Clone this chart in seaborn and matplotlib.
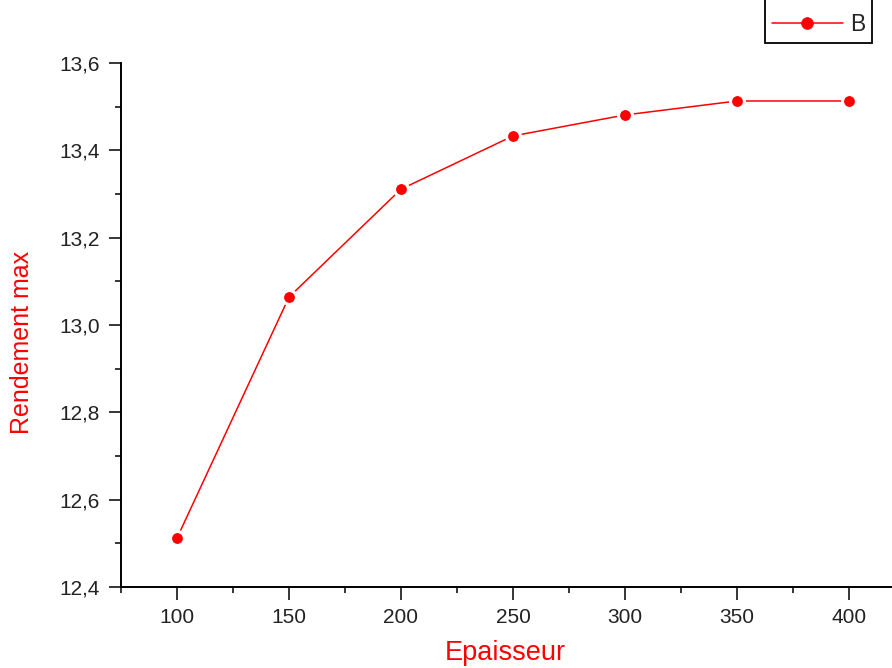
import matplotlib
matplotlib.use("Agg")
import matplotlib.pyplot as plt
from matplotlib.ticker import MultipleLocator, FuncFormatter
import seaborn as sns
import pandas as pd

# Thickness values and the corresponding maximum efficiency
epaisseur = [100, 150, 200, 250, 300, 350, 400]
rendement = [12.512, 13.064, 13.311, 13.433, 13.481, 13.513, 13.513]
series_name = "B"
x_label = "Epaisseur"
y_label = "Rendement max"

sns.set_style("ticks")
plt.rcParams["font.family"] = ["Liberation Sans", "DejaVu Sans"]

fig = plt.figure(figsize=(8.92, 6.68), dpi=100)
ax = fig.add_axes([121 / 892, 81 / 668, 784 / 892, 524 / 668])

df = pd.DataFrame({"x": epaisseur, "y": rendement})
sns.lineplot(
    data=df, x="x", y="y", ax=ax,
    color="#ff0000", linewidth=1.1,
    marker="o", markersize=10,
    markeredgecolor="white", markeredgewidth=2.2,
    label=series_name,
)

ax.set_xlim(75, 425)
ax.set_ylim(12.4, 13.6)

ax.xaxis.set_major_locator(MultipleLocator(50))
ax.xaxis.set_minor_locator(MultipleLocator(25))
ax.yaxis.set_major_locator(MultipleLocator(0.2))
ax.yaxis.set_minor_locator(MultipleLocator(0.1))
ax.yaxis.set_major_formatter(FuncFormatter(lambda v, p: f"{v:.1f}".replace(".", ",")))

ax.tick_params(which="major", direction="out", length=9, width=1.1,
               color="black", labelsize=15, labelcolor="#222222", pad=6)
ax.tick_params(which="minor", direction="out", length=4.5, width=1.1, color="black")

for side in ("top", "right"):
    ax.spines[side].set_visible(False)
for side in ("left", "bottom"):
    ax.spines[side].set_linewidth(1.4)
    ax.spines[side].set_color("black")

ax.set_xlabel(x_label, color="#ff0000", fontsize=19.5, va="center")
ax.set_ylabel(y_label, color="#ff0000", fontsize=18, va="center")
ax.xaxis.set_label_coords((505.5 - 121) / 784, -(653 - 587) / 524)
ax.yaxis.set_label_coords(-(121 - 22.5) / 784, (587 - 342) / 524)

# Legend box sits at the top edge with its upper border running off the figure
leg = ax.legend(
    loc="lower right",
    bbox_to_anchor=(872 / 892, 1 - 43 / 668),
    bbox_transform=fig.transFigure,
    title=" ", title_fontsize=36,
    fontsize=16.5, numpoints=1,
    handlelength=3.1, handletextpad=0.3, borderpad=0.3,
    borderaxespad=0, fancybox=False, framealpha=1,
    edgecolor="black",
)
leg.get_frame().set_linewidth(1.3)
for h in leg.legend_handles:
    h.set_markeredgecolor("#ff0000")
    h.set_markersize(8.5)
    h.set_markeredgewidth(0.5)

fig.savefig("out.png", dpi=100)
